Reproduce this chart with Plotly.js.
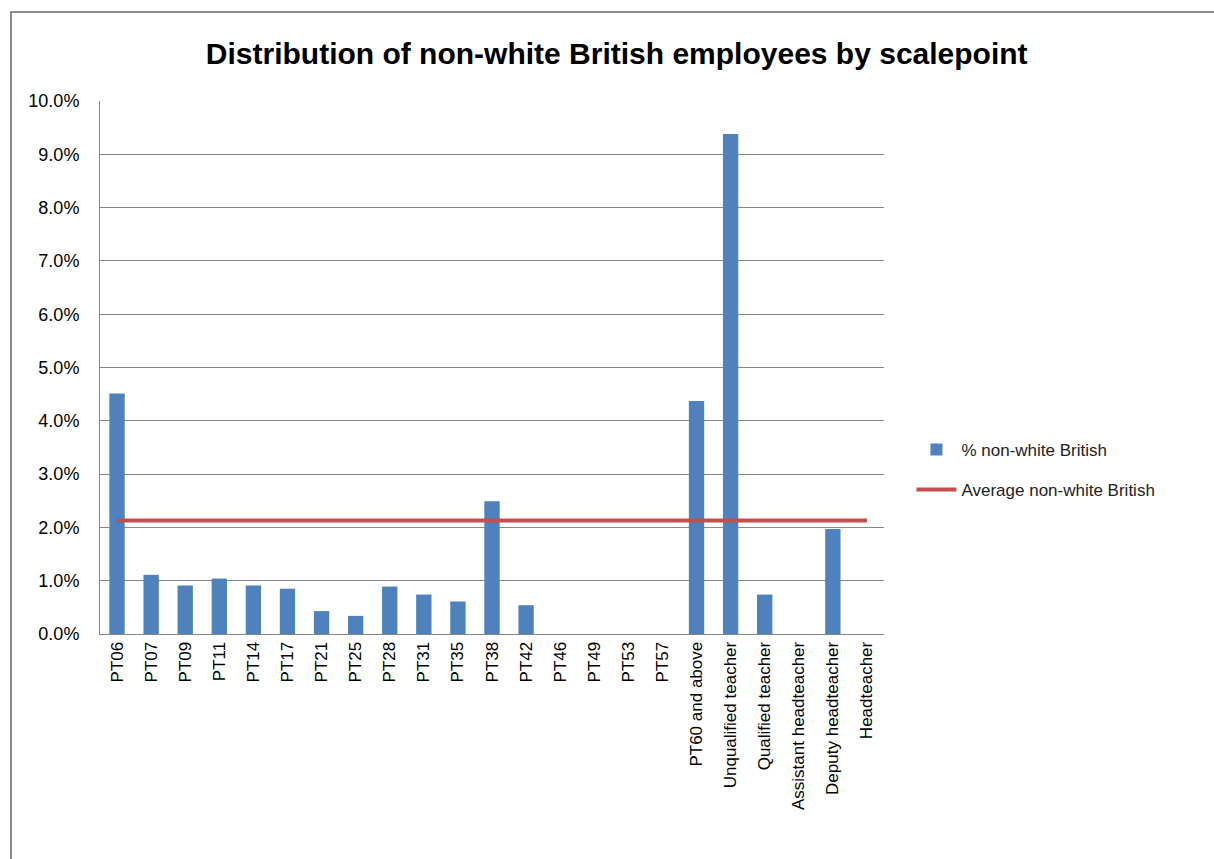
<!DOCTYPE html>
<html>
<head>
<meta charset="utf-8">
<script src="https://cdn.plot.ly/plotly-3.0.1.min.js"></script>
<style>html,body{margin:0;padding:0;background:#fff;}#chart{width:1214px;height:859px;}</style>
</head>
<body>
<div id="chart"></div>
<script>
const categories = ["PT06","PT07","PT09","PT11","PT14","PT17","PT21","PT25","PT28","PT31","PT35","PT38","PT42","PT46","PT49","PT53","PT57","PT60 and above","Unqualified teacher","Qualified teacher","Assistant headteacher","Deputy headteacher","Headteacher"];
const pctNonWhite = [0.0451,0.0111,0.0091,0.0104,0.0091,0.0085,0.0043,0.0034,0.0089,0.0074,0.0061,0.0249,0.0054,0,0,0,0,0.0437,0.0938,0.0074,0,0.0197,0];
const averageNonWhite = 0.0213;
const averageSeries = categories.map(() => averageNonWhite);
const yTickVals = [0,0.01,0.02,0.03,0.04,0.05,0.06,0.07,0.08,0.09,0.10];
const yTickText = ["0.0%","1.0%","2.0%","3.0%","4.0%","5.0%","6.0%","7.0%","8.0%","9.0%","10.0%"];

const font = "Liberation Sans, Arial, sans-serif";
const traces = [
  {type:"bar", name:"% non-white British", x:categories, y:pctNonWhite, width:0.45,
   marker:{color:"#4F81BD"}, legendgroup:"a"},
  {type:"scatter", mode:"lines", name:"Average non-white British", x:categories, y:averageSeries,
   line:{color:"#C0504D", width:4}, legendgroup:"b"}
];
const layout = {
  width:1214, height:859,
  margin:{l:100, r:330, t:101, b:225},
  paper_bgcolor:"#fff", plot_bgcolor:"#fff",
  font:{family:font, size:17, color:"#000"},
  title:{text:"<b>Distribution of non-white British employees by scalepoint</b>",
         font:{family:font, size:30, color:"#000"}, x:0.508, xanchor:"center", y:0.938, yanchor:"middle"},
  showlegend:true,
  legend:{x:1.035, y:0.308, xanchor:"left", yanchor:"middle", font:{family:font, size:17, color:"#222"},
          tracegroupgap:15, itemwidth:40},
  xaxis:{type:"category", tickangle:-90, showgrid:false, showline:true, linecolor:"#868686", linewidth:1,
         ticks:"", tickfont:{family:font, size:17}, automargin:false},
  yaxis:{range:[0,0.10], tickvals:yTickVals, ticktext:yTickText, showgrid:true, gridcolor:"#868686", gridwidth:1,
         showline:true, linecolor:"#868686", linewidth:1, ticks:"", zeroline:false,
         tickfont:{family:font, size:18}, automargin:false, ticklabelstandoff:16},
  shapes:[{type:"rect", xref:"paper", yref:"paper", x0:-89/784, x1:1.6, y0:-0.6, y1:1+89/533,
           line:{color:"#8c8c8c", width:2}, fillcolor:"rgba(0,0,0,0)", layer:"below"}]
};
Plotly.newPlot("chart", traces, layout, {displayModeBar:false, staticPlot:true});
</script>
</body>
</html>
